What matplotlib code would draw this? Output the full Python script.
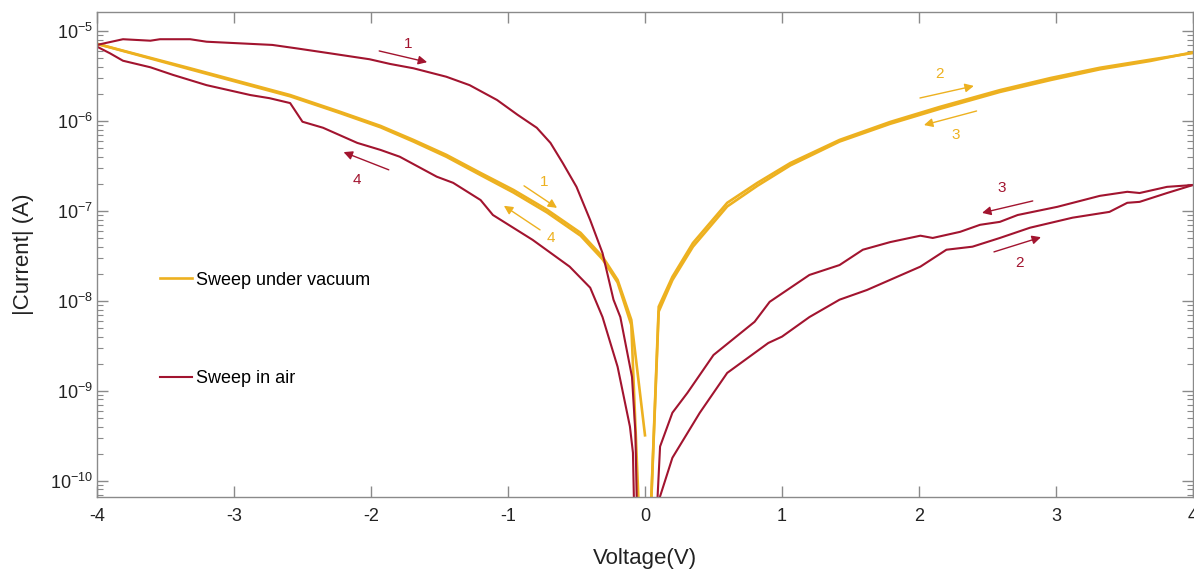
import matplotlib
matplotlib.use("Agg")
import matplotlib.pyplot as plt
from matplotlib.ticker import LogLocator, NullFormatter

plt.rcParams['font.family'] = ['Liberation Sans', 'DejaVu Sans']
plt.rcParams['mathtext.fontset'] = 'custom'
plt.rcParams['mathtext.rm'] = 'Liberation Sans'
plt.rcParams['axes.unicode_minus'] = False

# colores estilo matlab
amarillo = "#EDB120"
granate = "#A2142F"
gris = "#8a8a8a"

# --- datos ---
# aire, barrido 1 (-4 -> 0)
v_aire1 = [-4.0, -3.81, -3.61, -3.54, -3.32, -3.20, -2.72, -2.54, -2.30, -2.01, -1.86, -1.69,
           -1.45, -1.28, -1.08, -0.93, -0.79, -0.69, -0.60, -0.50, -0.40, -0.31, -0.23, -0.18,
           -0.095, -0.07, -0.05]
i_aire1 = [7.0e-6, 8.1e-6, 7.8e-6, 8.1e-6, 8.1e-6, 7.6e-6, 7.0e-6, 6.4e-6, 5.65e-6, 4.85e-6, 4.3e-6, 3.85e-6,
           3.1e-6, 2.5e-6, 1.71e-6, 1.17e-6, 8.4e-7, 5.7e-7, 3.4e-7, 1.85e-7, 7.9e-8, 3.4e-8, 1.03e-8, 6.6e-9,
           1.43e-9, 3.4e-10, 1e-11]

# aire, barrido 4 (0 -> -4)
v_aire4 = [-4.0, -3.905, -3.81, -3.61, -3.445, -3.2, -2.88, -2.74, -2.59, -2.5, -2.35, -2.1, -1.93,
           -1.79, -1.52, -1.4, -1.2, -1.11, -0.82, -0.55, -0.4, -0.31, -0.2, -0.11, -0.088, -0.07]
i_aire4 = [6.7e-6, 5.65e-6, 4.67e-6, 3.95e-6, 3.25e-6, 2.5e-6, 1.94e-6, 1.79e-6, 1.58e-6, 9.8e-7, 8.4e-7, 5.7e-7, 4.76e-7,
           4.0e-7, 2.4e-7, 2.05e-7, 1.32e-7, 9.0e-8, 4.76e-8, 2.4e-8, 1.4e-8, 6.6e-9, 1.85e-9, 4.0e-10, 2.05e-10, 1e-11]

# aire, barrido 2 (0 -> 4)
v_aire2 = [0.0, 0.1, 0.2, 0.4, 0.6, 0.9, 1.0, 1.2, 1.42, 1.62, 2.01, 2.2, 2.39, 2.59, 2.81,
           3.12, 3.39, 3.52, 3.61, 3.81, 4.0]
i_aire2 = [1e-13, 6e-11, 1.8e-10, 5.7e-10, 1.58e-9, 3.4e-9, 4.0e-9, 6.6e-9, 1.03e-8, 1.32e-8, 2.4e-8, 3.7e-8, 4.0e-8, 5.0e-8, 6.5e-8,
           8.4e-8, 9.75e-8, 1.23e-7, 1.26e-7, 1.58e-7, 1.94e-7]

# aire, barrido 3 (4 -> 0)
v_aire3 = [4.0, 3.81, 3.61, 3.52, 3.32, 3.01, 2.72, 2.59, 2.445, 2.3, 2.1, 2.01, 1.79, 1.59,
           1.42, 1.2, 0.91, 0.8, 0.5, 0.31, 0.2, 0.11, 0.0]
i_aire3 = [1.94e-7, 1.85e-7, 1.58e-7, 1.63e-7, 1.47e-7, 1.11e-7, 9.0e-8, 7.55e-8, 7.0e-8, 5.85e-8, 5.0e-8, 5.3e-8, 4.5e-8, 3.7e-8,
           2.5e-8, 1.94e-8, 9.75e-9, 5.85e-9, 2.5e-9, 9.5e-10, 5.7e-10, 2.4e-10, 1e-13]

# vacio, barrido 1 (-4 -> 0)
v_vac1 = [-4.0, -3.32, -2.59, -2.23, -1.93, -1.69, -1.45, -1.2, -0.96, -0.715, -0.47, -0.31, -0.2, -0.1, 0.0]
i_vac1 = [7.2e-6, 3.85e-6, 1.94e-6, 1.27e-6, 8.8e-7, 6.15e-7, 4.2e-7, 2.64e-7, 1.71e-7, 1.03e-7, 5.7e-8, 3.1e-8,
          1.71e-8, 6.15e-9, 3.2e-10]

# vacio, barrido 4 (0 -> -4)
v_vac4 = [0.0, -0.1, -0.2, -0.31, -0.47, -0.715, -0.96, -1.2, -1.45, -1.69, -1.93, -2.23, -2.59, -3.32, -4.0]
i_vac4 = [1e-12, 5.4e-9, 1.6e-8, 2.9e-8, 5.3e-8, 9.6e-8, 1.6e-7, 2.5e-7, 4.0e-7, 5.9e-7, 8.5e-7, 1.23e-6,
          1.88e-6, 3.75e-6, 7.2e-6]

# vacio, barrido 2 (0 -> 4)
v_vac2 = [0.0, 0.1, 0.2, 0.35, 0.6, 0.82, 1.06, 1.42, 1.79, 2.15, 2.59, 2.96, 3.32, 3.69, 4.0]
i_vac2 = [1e-12, 8.6e-9, 1.85e-8, 4.4e-8, 1.23e-7, 2.05e-7, 3.4e-7, 6.15e-7, 9.75e-7, 1.43e-6, 2.2e-6, 3.0e-6,
          3.9e-6, 4.8e-6, 5.7e-6]

# vacio, barrido 3 (4 -> 0)
v_vac3 = [4.0, 3.69, 3.32, 2.96, 2.59, 2.15, 1.79, 1.42, 1.06, 0.82, 0.6, 0.35, 0.2, 0.1, 0.0]
i_vac3 = [5.8e-6, 4.65e-6, 3.75e-6, 2.85e-6, 2.1e-6, 1.36e-6, 9.3e-7, 5.9e-7, 3.2e-7, 1.9e-7, 1.12e-7, 4.0e-8,
          1.7e-8, 7.6e-9, 1e-12]

# flechas: (texto, color, cola, punta, posicion del numero)
flechas = [
    ("1", granate, (-1.94, 6.0e-6), (-1.59, 4.5e-6), (-1.73, 7.2e-6)),
    ("4", granate, (-1.87, 2.86e-7), (-2.20, 4.5e-7), (-2.10, 2.2e-7)),
    ("1", amarillo, (-0.883, 1.9e-7), (-0.642, 1.08e-7), (-0.737, 2.1e-7)),
    ("4", amarillo, (-0.766, 6.15e-8), (-1.03, 1.14e-7), (-0.686, 5.0e-8)),
    ("2", amarillo, (2.007, 1.8e-6), (2.40, 2.45e-6), (2.146, 3.3e-6)),
    ("3", amarillo, (2.42, 1.29e-6), (2.036, 9.0e-7), (2.27, 7.0e-7)),
    ("3", granate, (2.83, 1.29e-7), (2.46, 9.5e-8), (2.606, 1.8e-7)),
    ("2", granate, (2.547, 3.5e-8), (2.89, 5.1e-8), (2.737, 2.64e-8)),
]

fig = plt.figure(figsize=(11.94, 5.72), dpi=100)
ax = fig.add_axes([0.0812, 0.1316, 0.918, 0.848])

lw_vac = 1.9
lw_aire = 1.5
ax.plot(v_vac1, i_vac1, color=amarillo, lw=lw_vac, label="Sweep under vacuum")
ax.plot(v_vac4, i_vac4, color=amarillo, lw=lw_vac)
ax.plot(v_vac2, i_vac2, color=amarillo, lw=lw_vac)
ax.plot(v_vac3, i_vac3, color=amarillo, lw=lw_vac)
ax.plot(v_aire1, i_aire1, color=granate, lw=lw_aire, label="Sweep in air")
ax.plot(v_aire4, i_aire4, color=granate, lw=lw_aire)
ax.plot(v_aire2, i_aire2, color=granate, lw=lw_aire)
ax.plot(v_aire3, i_aire3, color=granate, lw=lw_aire)

for txt, col, cola, punta, pos in flechas:
    ax.annotate("", xy=punta, xytext=cola,
                arrowprops=dict(arrowstyle="-|>", color=col, lw=1.0, mutation_scale=13,
                                shrinkA=0, shrinkB=0))
    ax.text(pos[0], pos[1], txt, color=col, fontsize=11, ha="center", va="center")

ax.set_yscale("log")
ax.set_xlim(-4, 4)
ax.set_ylim(6.64e-11, 1.64e-5)
ax.set_xticks(range(-4, 5))
ax.yaxis.set_major_locator(LogLocator(base=10, numticks=20))
ax.yaxis.set_minor_locator(LogLocator(base=10, subs=range(2, 10), numticks=20))
ax.yaxis.set_minor_formatter(NullFormatter())

for lado in ax.spines.values():
    lado.set_color(gris)
    lado.set_linewidth(1.0)
ax.tick_params(which="both", direction="in", top=True, right=True, color=gris, labelcolor="#222222")
ax.tick_params(which="major", length=8, width=1.0, labelsize=13)
ax.tick_params(which="minor", length=4, width=0.8)
ax.tick_params(axis="x", pad=8)
ax.tick_params(axis="y", pad=3)

ax.set_xlabel("Voltage(V)", fontsize=16, color="#222222")
ax.set_ylabel("|Current| (A)", fontsize=16, color="#222222")
ax.xaxis.set_label_coords(0.5, -0.105)
ax.yaxis.set_label_coords(-0.057, 0.5)

ax.legend(loc="upper left", bbox_to_anchor=(0.0575, 0.464), frameon=False, fontsize=13,
          handlelength=1.8, handletextpad=0.2, labelspacing=4.5, borderpad=0, borderaxespad=0)

plt.savefig("out.png", dpi=100)
